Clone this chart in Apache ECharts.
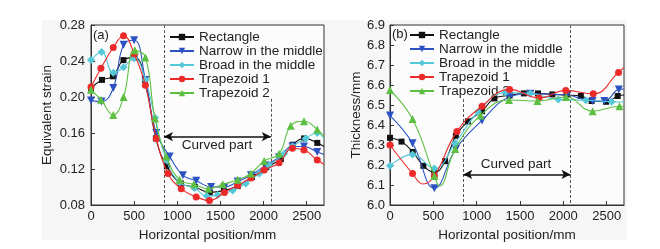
<!DOCTYPE html>
<html><head><meta charset="utf-8">
<script src="https://cdn.jsdelivr.net/npm/echarts@6/dist/echarts.min.js"></script>
<style>html,body{margin:0;padding:0;background:#fff}#c{width:660px;height:249px}</style>
</head><body><div id="c"></div>
<script>
// ---------- data: panel (a) equivalent strain ----------
const seriesNames = ['Rectangle','Narrow in the middle','Broad in the middle','Trapezoid 1','Trapezoid 2'];
const xTicks = [0,500,1000,1500,2000,2500];

const rectX_a = [0,127,254,376,503,626,752,879,1040,1203,1376,1540,1700,1865,2030,2200,2340,2470,2622,2700];
const rectY_a = [0.210,0.219,0.223,0.241,0.244,0.219,0.154,0.123,0.104,0.100,0.094,0.096,0.101,0.111,0.122,0.131,0.147,0.154,0.149,0.145];
const narrowX_a = [0,120,258,377,500,630,757,911,1065,1219,1392,1546,1700,1853,2026,2180,2334,2468,2622,2700];
const narrowY_a = [0.196,0.195,0.210,0.258,0.263,0.219,0.160,0.134,0.113,0.107,0.100,0.100,0.106,0.113,0.124,0.133,0.145,0.145,0.139,0.136];
const broadX_a = [0,123,258,377,500,630,742,873,1027,1200,1342,1469,1642,1795,1950,2065,2238,2334,2488,2622,2700];
const broadY_a = [0.241,0.250,0.227,0.233,0.243,0.219,0.177,0.130,0.105,0.099,0.090,0.091,0.096,0.104,0.115,0.124,0.137,0.145,0.154,0.160,0.154];
const trap1X_a = [0,115,258,377,500,630,757,892,1046,1219,1373,1546,1700,1853,2007,2180,2334,2468,2622,2700];
const trap1Y_a = [0.211,0.232,0.255,0.268,0.248,0.213,0.154,0.115,0.098,0.089,0.085,0.094,0.102,0.110,0.119,0.127,0.143,0.141,0.130,0.125];
const trap2X_a = [0,115,258,377,508,630,742,873,1027,1192,1360,1527,1700,1853,2007,2180,2315,2468,2622,2700];
const trap2Y_a = [0.208,0.197,0.180,0.200,0.252,0.244,0.176,0.134,0.108,0.103,0.098,0.103,0.108,0.115,0.129,0.137,0.168,0.173,0.164,0.156];

// ---------- data: panel (b) thickness ----------
const rectX_b = [0,133,263,385,512,636,760,899,1062,1205,1380,1545,1708,1873,2039,2202,2326,2492,2627,2700];
const rectY_b = [6.336,6.317,6.265,6.196,6.162,6.219,6.346,6.418,6.469,6.533,6.548,6.558,6.558,6.553,6.550,6.545,6.520,6.516,6.545,6.550];
const narrowX_b = [0,260,512,760,1062,1380,1620,2039,2338,2473,2640,2700];
const narrowY_b = [6.447,6.309,6.084,6.280,6.423,6.540,6.556,6.550,6.520,6.520,6.578,6.580];
const broadX_b = [0,260,512,752,1016,1333,1620,1941,2260,2557,2700];
const broadY_b = [6.196,6.253,6.182,6.309,6.465,6.562,6.558,6.528,6.524,6.516,6.515];
const trap1X_b = [0,260,380,512,772,1062,1380,1720,2028,2345,2637,2700];
const trap1Y_b = [6.300,6.157,6.105,6.145,6.368,6.494,6.578,6.535,6.573,6.556,6.663,6.688];
const trap1Bare_b = [380];
const trap2X_b = [0,260,512,570,752,1044,1373,1701,2030,2338,2647,2700];
const trap2Y_b = [6.575,6.430,6.145,6.095,6.280,6.448,6.525,6.520,6.540,6.469,6.494,6.494];
const trap2Bare_b = [570];

// reference lines: curved part
const curveStart = 846, curveEnd = 2083;
const arrowY_a = 0.156, arrowY_b = 6.153;

const colors = ['#111111','#2c52c2','#55c8d8','#ec2a2a','#5cbf42'];
const symbols = ['rect','triangle','diamond','circle','triangle'];
const symRot = [0,180,0,0,0];
const symSize = [6,8,8,7,8];

function pts(xs, ys, bare){
  bare = bare || [];
  return xs.map((x,i)=>{
    const noMark = x === 2700 || bare.indexOf(x) >= 0;
    return noMark ? {value:[x,ys[i]], symbol:'none'} : [x,ys[i]];
  });
}
const FONT = 'Liberation Sans, Arial, sans-serif';
const panelA = [[rectX_a,rectY_a],[narrowX_a,narrowY_a],[broadX_a,broadY_a],[trap1X_a,trap1Y_a],[trap2X_a,trap2Y_a]];
const panelB = [[rectX_b,rectY_b],[narrowX_b,narrowY_b],[broadX_b,broadY_b],[trap1X_b,trap1Y_b,trap1Bare_b],[trap2X_b,trap2Y_b,trap2Bare_b]];

const series = [];
function addPanel(panel, idx, marks){
  panel.forEach((p,i)=>{
    const s = {
      name: seriesNames[i], type:'line', xAxisIndex:idx, yAxisIndex:idx,
      data: pts(p[0],p[1],p[2]), smooth:0.45, symbol:symbols[i], symbolRotate:symRot[i],
      symbolSize:symSize[i], showAllSymbol:true, clip:true,
      lineStyle:{color:colors[i], width:1.1}, itemStyle:{color:colors[i], borderWidth:0},
      z: 3 + i, emphasis:{disabled:true}
    };
    if (i===0) s.markLine = marks;
    series.push(s);
  });
}
function marksFor(yTop, yBot, dashA, dashB, arrowY){
  return {
    silent:true, symbol:'none', animation:false,
    label:{show:false},
    lineStyle:{type:[3,2], color:'#555', width:1},
    data:[
      [{coord:[curveStart, dashA]},{coord:[curveStart, yBot]}],
      [{coord:[curveEnd, dashB]},{coord:[curveEnd, yBot]}],
      [{coord:[curveStart, arrowY], symbol:'arrow', symbolSize:[7,9], lineStyle:{type:'solid', color:'#111', width:1.5}},
       {coord:[curveEnd, arrowY], symbol:'arrow', symbolSize:[7,9]}]
    ]
  };
}
addPanel(panelA, 0, marksFor(0.28, 0.08, 0.28, 0.198, arrowY_a));
addPanel(panelB, 1, marksFor(6.9, 6.0, 6.53, 6.9, arrowY_b));

const axisLbl = {color:'#222', fontSize:13, fontFamily:FONT};
function xAx(i){
  return {gridIndex:i, type:'value', min:0, max:2700, interval:500,
    axisLine:{show:true, lineStyle:{color:'#333', width:1}},
    axisTick:{show:true, inside:true, length:4, lineStyle:{color:'#333'}},
    axisLabel:Object.assign({margin:5, showMaxLabel:false, formatter:v=> (v%500===0? String(v):'')}, axisLbl),
    splitLine:{show:false},
    name:'Horizontal position/mm', nameLocation:'middle', nameGap:20,
    nameTextStyle:{color:'#222', fontSize:13.5, fontFamily:FONT}};
}
function legendAt(left, top, lh){
  return {left:left, top:top, orient:'vertical', padding:0, itemWidth:24, itemHeight:8, itemGap:0,
    textStyle:{color:'#222', fontSize:13.5, fontFamily:FONT, lineHeight:lh},
    data:seriesNames, selectedMode:false};
}

const option = {
  animation:false,
  backgroundColor:'#ffffff',
  color:colors,
  graphic:[
    {type:'rect', shape:{x:42,y:20,width:585,height:220}, style:{fill:'#f6f6f6'}, z:-10, silent:true},
    {type:'text', left:93, top:29, style:{text:'(a)', fill:'#222', font:'13px '+FONT}, z:10},
    {type:'text', left:392, top:28, style:{text:'(b)', fill:'#222', font:'13px '+FONT}, z:10},
    {type:'text', x:217, y:145, style:{text:'Curved part', fill:'#222', font:'13.5px '+FONT, align:'center', verticalAlign:'middle'}, z:10},
    {type:'text', x:516, y:164, style:{text:'Curved part', fill:'#222', font:'13.5px '+FONT, align:'center', verticalAlign:'middle'}, z:10}
  ],
  grid:[
    {left:91, top:25, width:233, height:180, show:true, borderColor:'#333', borderWidth:1, backgroundColor:'#fcfcfc'},
    {left:390, top:25, width:234, height:180, show:true, borderColor:'#333', borderWidth:1, backgroundColor:'#fcfcfc'}
  ],
  xAxis:[xAx(0), xAx(1)],
  yAxis:[
    {gridIndex:0, type:'value', min:0.08, max:0.28, interval:0.04,
     axisLine:{show:true, lineStyle:{color:'#333'}},
     axisTick:{show:true, inside:true, length:4, lineStyle:{color:'#333'}},
     axisLabel:Object.assign({margin:6, formatter:v=>v.toFixed(2)}, axisLbl),
     splitLine:{show:false},
     name:'Equivalent strain', nameLocation:'middle', nameGap:37,
     nameTextStyle:{color:'#222', fontSize:13.5, fontFamily:FONT}},
    {gridIndex:1, type:'value', min:6.0, max:6.9, interval:0.1,
     axisLine:{show:true, lineStyle:{color:'#333'}},
     axisTick:{show:true, inside:true, length:4, lineStyle:{color:'#333'}},
     axisLabel:Object.assign({margin:5, formatter:v=>v.toFixed(1)}, axisLbl),
     splitLine:{show:false},
     name:'Thickness/mm', nameLocation:'middle', nameGap:26,
     nameTextStyle:{color:'#222', fontSize:13.5, fontFamily:FONT}}
  ],
  legend:[
    legendAt(169, 30, 12.8),
    legendAt(409, 28, 12.4)
  ],
  series: series
};
const chart = echarts.init(document.getElementById('c'), null, {renderer:'canvas'});
chart.setOption(option);
</script></body></html>
